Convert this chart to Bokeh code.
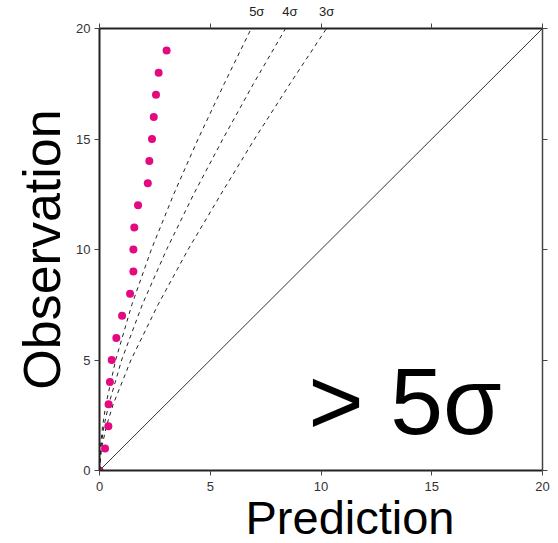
from bokeh.plotting import figure
from bokeh.models import Range1d, LinearAxis, FixedTicker, Label, Title
from bokeh.embed import file_html
from bokeh.resources import INLINE

# Observed points (Prediction, Observation)
pred = [0.0, 0.25, 0.40, 0.41, 0.47, 0.55, 0.76, 1.02, 1.38, 1.53, 1.53, 1.57,
        1.74, 2.18, 2.25, 2.37, 2.45, 2.55, 2.67, 3.03]
obs = [0, 1, 2, 3, 4, 5, 6, 7, 8, 9, 10, 11, 12, 13, 14, 15, 16, 17, 18, 19]

# Significance contours
curve_y = [0, 1, 2, 3, 5, 7.5, 10, 12.5, 15, 17.5, 20]
five_sigma_x = [0, 0.037, 0.139, 0.29, 0.73, 1.46, 2.34, 3.35, 4.45, 5.63, 6.85]
four_sigma_x = [0, 0.056, 0.20, 0.42, 1.00, 1.93, 3.03, 4.25, 5.57, 6.95, 8.40]
three_sigma_x = [0, 0.092, 0.31, 0.62, 1.42, 2.64, 4.00, 5.48, 7.00, 8.60, 10.25]
sigma_labels = ["5σ", "4σ", "3σ"]
sigma_label_x = [7.1, 8.6, 10.25]

diag = [0, 20]
ticks = [0, 5, 10, 15, 20]

FONT = "Liberation Sans"

p = figure(width=558, height=543, output_backend="svg", toolbar_location=None,
           x_range=Range1d(0, 20), y_range=Range1d(0, 20),
           x_axis_location=None, y_axis_location=None,
           min_border_left=99, min_border_right=16, min_border_top=28,
           min_border_bottom=73)
p.outline_line_color = None
p.xgrid.visible = False
p.ygrid.visible = False
p.background_fill_color = "white"
p.border_fill_color = "white"

def style_axis(ax, color="#222222", width=2):
    ax.ticker = FixedTicker(ticks=ticks)
    ax.axis_line_color = color
    ax.axis_line_width = width
    ax.major_tick_line_color = "#444444"
    ax.major_tick_line_width = 1
    ax.major_tick_in = 0
    ax.major_tick_out = 5
    ax.minor_tick_line_color = None
    ax.major_label_text_font = FONT
    ax.major_label_text_font_size = "13px"
    ax.major_label_text_color = "#333333"

left = LinearAxis()
style_axis(left)
left.major_label_standoff = 4
left.axis_label = "Observation"
left.axis_label_text_font = FONT
left.axis_label_text_font_size = "52px"
left.axis_label_text_font_style = "normal"
left.axis_label_text_color = "black"
left.axis_label_standoff = 2
p.add_layout(left, "left")

below = LinearAxis()
style_axis(below)
below.major_label_standoff = 6
p.add_layout(below, "below")

# top axis: sigma labels as major labels, plain ticks as minor ticks
above = LinearAxis()
above.ticker = FixedTicker(ticks=sigma_label_x, minor_ticks=ticks)
above.major_label_overrides = {x: t for x, t in zip(sigma_label_x, sigma_labels)}
above.axis_line_color = "#222222"
above.axis_line_width = 2
above.major_tick_line_color = None
above.major_tick_in = 0
above.major_tick_out = 0
above.minor_tick_line_color = "#444444"
above.minor_tick_in = 0
above.minor_tick_out = 5
above.major_label_standoff = 5
above.major_label_text_font = FONT
above.major_label_text_font_size = "13px"
above.major_label_text_color = "#222222"
p.add_layout(above, "above")

right = LinearAxis()
style_axis(right, color="#444444", width=1.5)
right.major_label_text_font_size = "0px"
right.major_label_text_color = None
right.major_label_standoff = 0
p.add_layout(right, "right")

p.add_layout(Title(text="Prediction", align="left", offset=146, standoff=-10,
                   vertical_align="bottom", text_font=FONT, text_font_size="47px",
                   text_font_style="normal", text_color="black"), "below")

# diagonal
p.line(diag, diag, line_color="#333333", line_width=1)

# sigma curves
for xs in (five_sigma_x, four_sigma_x, three_sigma_x):
    p.line(xs, curve_y, line_color="#222222", line_width=1, line_dash="4 4")

# points
p.scatter(pred, obs, size=8, marker="circle", fill_color="#E5097F",
          line_color=None)

p.add_layout(Label(x=9.43, y=3.16, text="> 5σ", text_font=FONT,
                   text_font_size="95px", text_align="left",
                   text_baseline="alphabetic", text_color="black"))

open("out.html", "w").write(file_html(p, INLINE))
